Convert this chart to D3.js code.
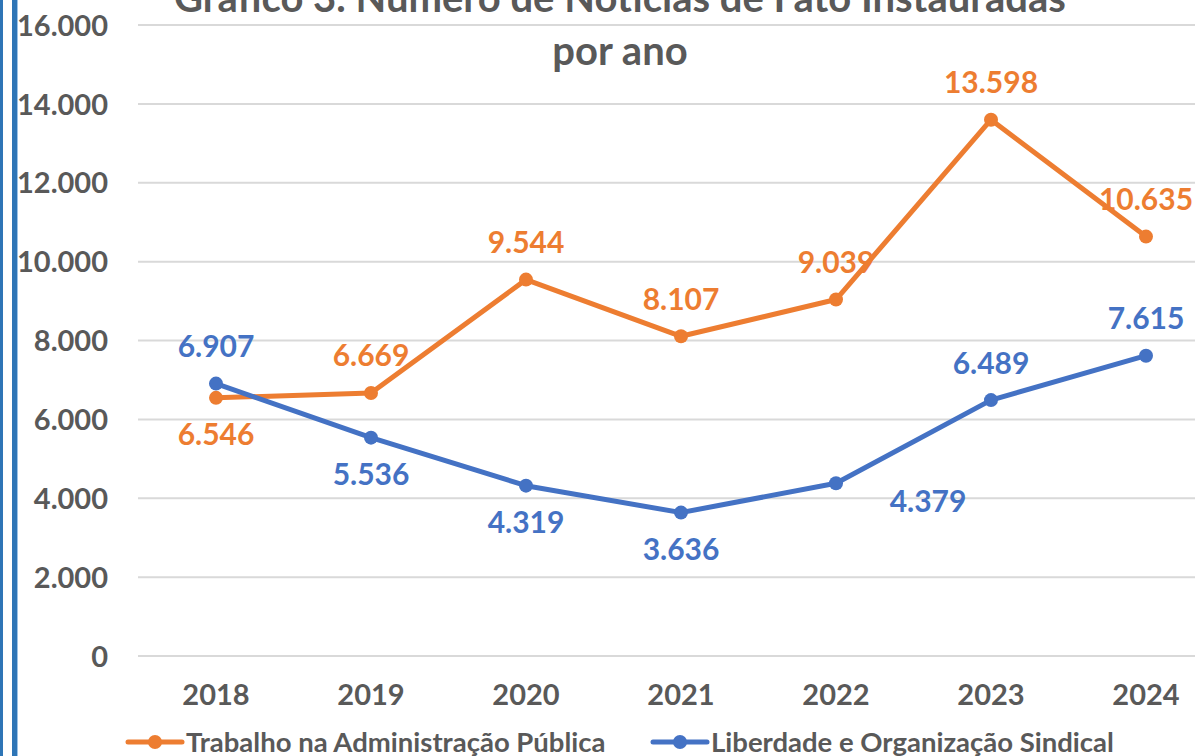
<!DOCTYPE html>
<html><head><meta charset="utf-8">
<script src="https://cdn.jsdelivr.net/npm/d3@7"></script>
<style>html,body{margin:0;padding:0;background:#fff;overflow:hidden}svg{display:block}text{font-family:Lato,"Open Sans",sans-serif;font-weight:700}</style>
</head><body><svg id="c" width="1195" height="756"></svg>
<script>
const years = ["2018","2019","2020","2021","2022","2023","2024"];
const trabalho = [6546, 6669, 9544, 8107, 9039, 13598, 10635];
const liberdade = [6907, 5536, 4319, 3636, 4379, 6489, 7615];
const yTicks = [0, 2000, 4000, 6000, 8000, 10000, 12000, 14000, 16000];
const seriesNames = ["Trabalho na Administração Pública", "Liberdade e Organização Sindical"];
const trabalhoLabelPos = ["below","above","above","above","above","above","above"];
const liberdadeLabelPos = ["above","below","below","below","belowright","above","above"];

const svg = d3.select("#c");
const W = 1195, H = 756;
const textCol = "#595959", orange = "#ED7D31", blue = "#4472C4";
const fmt = v => d3.format(",")(v).replace(/,/g, ".");

// left border
svg.append("rect").attr("x",0).attr("y",0).attr("width",3).attr("height",H).attr("fill","#2E75B6");
svg.append("rect").attr("x",12).attr("y",0).attr("width",5).attr("height",H).attr("fill","#2E75B6");
svg.append("rect").attr("x",17).attr("y",0).attr("width",1).attr("height",H).attr("fill","#9DC3E6");

const x = d3.scaleBand().domain(years).range([138.5, 1223.5]);
const y = d3.scaleLinear().domain([0,16000]).range([656, 25]);

// gridlines
svg.append("g").selectAll("line").data(yTicks).join("line")
  .attr("x1",138).attr("x2",W).attr("y1",d=>y(d)).attr("y2",d=>y(d))
  .attr("stroke","#D9D9D9").attr("stroke-width",2);

// y axis
const ya = svg.append("g").attr("transform","translate(108,0)")
  .call(d3.axisLeft(y).tickValues(yTicks).tickFormat(fmt).tickSize(0).tickPadding(0));
ya.select(".domain").remove();
ya.selectAll("text").attr("fill",textCol).style("font-size","29px").attr("dy","0.35em");

// x axis
const xa = svg.append("g").attr("transform","translate(0,695)")
  .call(d3.axisBottom(x).tickSize(0).tickPadding(0));
xa.select(".domain").remove();
xa.selectAll("text").attr("fill",textCol).style("font-size","29px").attr("dy","0.35em");

// title (top line is clipped in the reference too)
const title = svg.append("text").attr("x",620).attr("text-anchor","middle").attr("fill",textCol).style("font-size","40px");
title.append("tspan").attr("x",620).attr("y",12).text("Gráfico 3. Número de Notícias de Fato Instauradas");
title.append("tspan").attr("x",620).attr("y",65).text("por ano");

const line = d3.line().x((d,i)=>x(years[i])+x.bandwidth()/2).y(d=>y(d));

function drawSeries(vals, col, pos){
  const g = svg.append("g");
  g.append("path").datum(vals).attr("d",line).attr("fill","none").attr("stroke",col).attr("stroke-width",5).attr("stroke-linejoin","round");
  g.selectAll("circle").data(vals).join("circle")
    .attr("cx",(d,i)=>x(years[i])+x.bandwidth()/2).attr("cy",d=>y(d)).attr("r",7).attr("fill",col);
  g.selectAll("text").data(vals).join("text")
    .attr("x",(d,i)=>x(years[i])+x.bandwidth()/2 + (pos[i]==="belowright"?92:0))
    .attr("y",(d,i)=>y(d) + (pos[i]==="above"?-37:(pos[i]==="belowright"?18:37)))
    .attr("dy","0.35em").attr("text-anchor","middle").attr("fill",col).style("font-size","30px")
    .text(fmt);
}
drawSeries(trabalho, orange, trabalhoLabelPos);
drawSeries(liberdade, blue, liberdadeLabelPos);

// legend
const legend = [{name:seriesNames[0],col:orange,x0:128},{name:seriesNames[1],col:blue,x0:653}];
legend.forEach(l=>{
  const g = svg.append("g");
  g.append("line").attr("x1",l.x0).attr("x2",l.x0+54).attr("y1",742).attr("y2",742).attr("stroke",l.col).attr("stroke-width",5).attr("stroke-linecap","round");
  g.append("circle").attr("cx",l.x0+27).attr("cy",742).attr("r",7).attr("fill",l.col);
  g.append("text").attr("x",l.x0+58).attr("y",742).attr("dy","0.35em").attr("fill",textCol).style("font-size","27.5px").text(l.name);
});
</script></body></html>
